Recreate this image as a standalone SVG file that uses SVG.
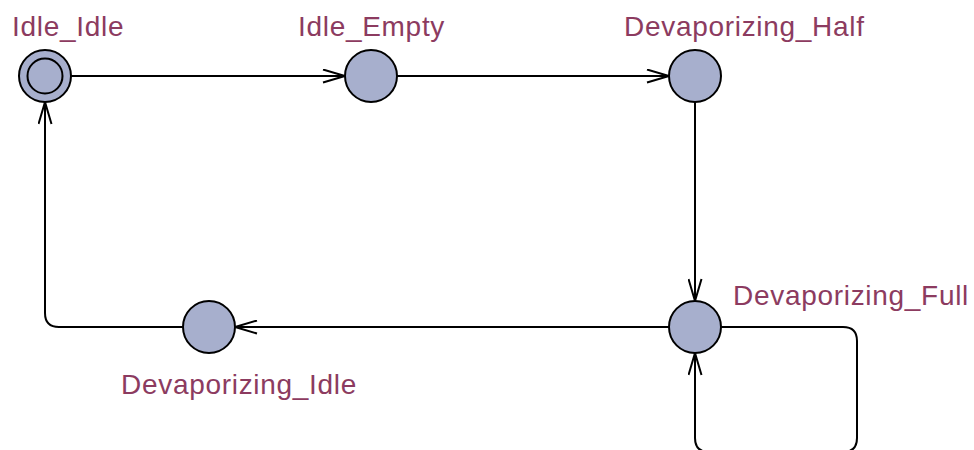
<svg xmlns="http://www.w3.org/2000/svg" width="974" height="450" viewBox="0 0 974 450">
<defs>
<marker id="arr" viewBox="0 0 24 15" refX="23" refY="7.5" markerWidth="24" markerHeight="15" markerUnits="userSpaceOnUse" orient="auto">
<path d="M1,1 L23,7.5 L1,14" fill="none" stroke="#000" stroke-width="2"/>
</marker>
<style>
.st{fill:#a7afcd;stroke:#000;stroke-width:2}
.lb{font-family:"Liberation Sans",Arial,sans-serif;font-size:28px;letter-spacing:0.7px;fill:#8c3b60}
.ed{fill:none;stroke:#000;stroke-width:2;marker-end:url(#arr)}
</style>
</defs>
<rect width="974" height="450" fill="#fff"/>
<g id="connectors">
<path class="ed" d="M71,76 H345"/>
<path class="ed" d="M397,76 H669"/>
<path class="ed" d="M695,102 V301"/>
<path class="ed" d="M669,327 H235"/>
<path class="ed" d="M183,327 H59 Q45,327 45,313 V102"/>
<path class="ed" d="M721,327 H843 Q857,327 857,341 V438 Q857,452 843,452 H709 Q695,452 695,438 V353"/>
</g>
<g id="Idle_Idle">
<circle class="st" cx="45" cy="76" r="26"/>
<circle cx="45" cy="76" r="17.5" fill="none" stroke="#000" stroke-width="2"/>
<text class="lb" x="12" y="36">Idle_Idle</text>
</g>
<g id="Idle_Empty">
<circle class="st" cx="371" cy="76" r="26"/>
<text class="lb" x="298" y="36">Idle_Empty</text>
</g>
<g id="Devaporizing_Half">
<circle class="st" cx="695" cy="76" r="26"/>
<text class="lb" x="624" y="36">Devaporizing_Half</text>
</g>
<g id="Devaporizing_Full">
<circle class="st" cx="695" cy="327" r="26"/>
<text class="lb" x="733" y="305">Devaporizing_Full</text>
</g>
<g id="Devaporizing_Idle">
<circle class="st" cx="209" cy="327" r="26"/>
<text class="lb" x="121" y="394">Devaporizing_Idle</text>
</g>
</svg>
